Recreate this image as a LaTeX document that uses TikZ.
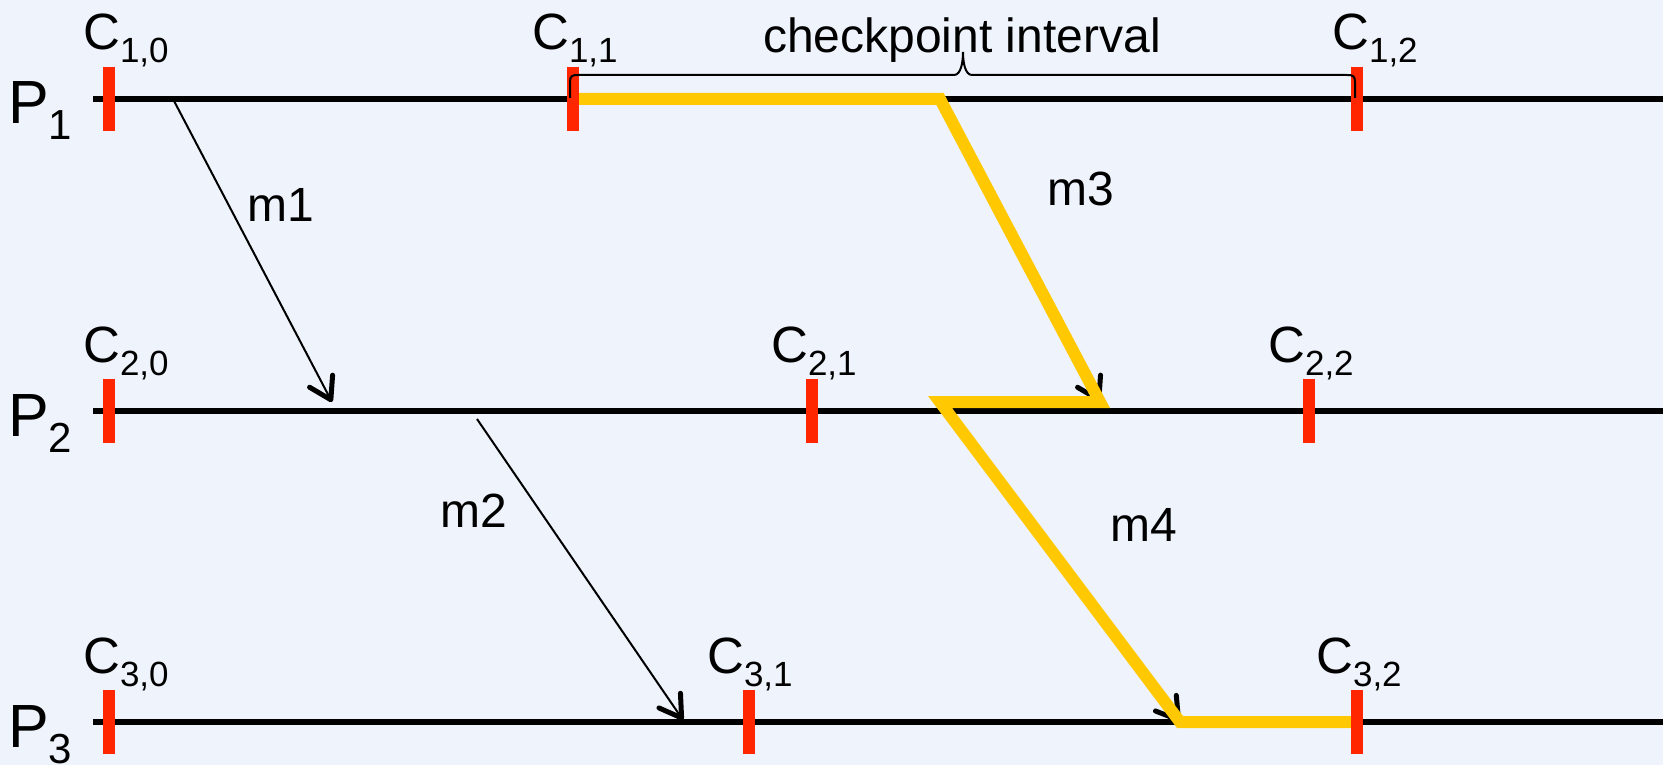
\documentclass[tikz,border=0pt]{standalone}
\usepackage{fontspec}
\setmainfont{Liberation Sans}
\usetikzlibrary{arrows.meta}
\definecolor{bgblue}{RGB}{239,244,252}
\definecolor{ckred}{RGB}{255,38,0}
\definecolor{ckyel}{RGB}{255,200,0}
\newcommand\cklab[2]{C\raisebox{-13pt}{\fontsize{35}{40}\selectfont #1,#2}}
\newcommand\plab[1]{P\raisebox{-16pt}{\fontsize{42}{48}\selectfont #1}}
\begin{document}
\begin{tikzpicture}[x=1pt,y=-1pt,
  procline/.style={line width=6pt},
  tickmark/.style={rectangle,fill=ckred,minimum width=12pt,minimum height=64pt,inner sep=0pt,outer sep=0pt},
  msg/.style={line width=2pt,-{Straight Barb[length=21pt,width=26pt,line width=5pt,round]}},
  hilite/.style={ckyel,line width=12pt,line join=miter},
  cklabel/.style={anchor=base west,inner sep=0pt,font=\fontsize{51}{60}\selectfont},
  plabel/.style={anchor=base west,inner sep=0pt,font=\fontsize{61}{70}\selectfont},
  mlabel/.style={anchor=base west,inner sep=0pt,font=\fontsize{48}{56}\selectfont},
  bracepath/.style={line width=2pt}]
\fill[bgblue] (0,0) rectangle (1663,765);
\useasboundingbox (0,0) rectangle (1663,765);

% process lines
\coordinate (p1a) at (93,99);  \coordinate (p1b) at (1663,99);
\coordinate (p2a) at (93,411); \coordinate (p2b) at (1663,411);
\coordinate (p3a) at (93,722); \coordinate (p3b) at (1663,722);
\draw[procline] (p1a) -- (p1b);
\draw[procline] (p2a) -- (p2b);
\draw[procline] (p3a) -- (p3b);

% process labels
\node[plabel] (P1) at (8,124) {\plab{1}};
\node[plabel] (P2) at (8,436) {\plab{2}};
\node[plabel] (P3) at (8,747) {\plab{3}};

% message points
\coordinate (m1s) at (173,99);  \coordinate (m1e) at (332,402);
\coordinate (m2s) at (477,419); \coordinate (m2e) at (683,720);
\coordinate (m3s) at (940,99);  \coordinate (m3e) at (1100,402);
\coordinate (m4s) at (940,402); \coordinate (m4e) at (1180,722);
\coordinate (y1s) at (573,99);  \coordinate (y3e) at (1357,722);

\draw[msg] (m1s) -- (m1e);
\draw[msg] (m2s) -- (m2e);
\draw[msg] (m3s) -- (m3e);
\draw[msg] (m4s) -- (m4e);

% highlighted path
\draw[hilite] (y1s) -- (m3s) -- (m3e) -- (m4s) -- (m4e) -- (y3e);

% checkpoints
\node[tickmark] (t10) at (109,99) {};
\node[tickmark] (t11) at (573,99) {};
\node[tickmark] (t12) at (1357,99) {};
\node[tickmark] (t20) at (109,411) {};
\node[tickmark] (t21) at (812,411) {};
\node[tickmark] (t22) at (1309,411) {};
\node[tickmark] (t30) at (109,722) {};
\node[tickmark] (t31) at (749,722) {};
\node[tickmark] (t32) at (1357,722) {};

% checkpoint labels
\node[cklabel] (c10) at (83,50) {\cklab{1}{0}};
\node[cklabel] (c11) at (532,50) {\cklab{1}{1}};
\node[cklabel] (c12) at (1332,50) {\cklab{1}{2}};
\node[cklabel] (c20) at (83,362) {\cklab{2}{0}};
\node[cklabel] (c21) at (771,362) {\cklab{2}{1}};
\node[cklabel] (c22) at (1268,362) {\cklab{2}{2}};
\node[cklabel] (c30) at (83,673) {\cklab{3}{0}};
\node[cklabel] (c31) at (707,673) {\cklab{3}{1}};
\node[cklabel] (c32) at (1316,673) {\cklab{3}{2}};

% message labels
\node[mlabel] (lm1) at (247,222) {m1};
\node[mlabel] (lm2) at (440,527) {m2};
\node[mlabel] (lm3) at (1047,205) {m3};
\node[mlabel] (lm4) at (1110,541) {m4};

% brace
\coordinate (bl) at (570,98);
\coordinate (br) at (1355,98);
\draw[bracepath] (bl) -- (570,82) .. controls (570,76) and (572,75) .. (578,75)
  -- (954,75) .. controls (961,75) and (963,62) .. (963,52)
  .. controls (963,62) and (965,75) .. (972,75)
  -- (1347,75) .. controls (1353,75) and (1355,76) .. (1355,82) -- (br);
\node[anchor=base,inner sep=0pt,font=\fontsize{48}{56}\selectfont] (ci) at (962,53) {checkpoint interval};
\end{tikzpicture}
\end{document}
